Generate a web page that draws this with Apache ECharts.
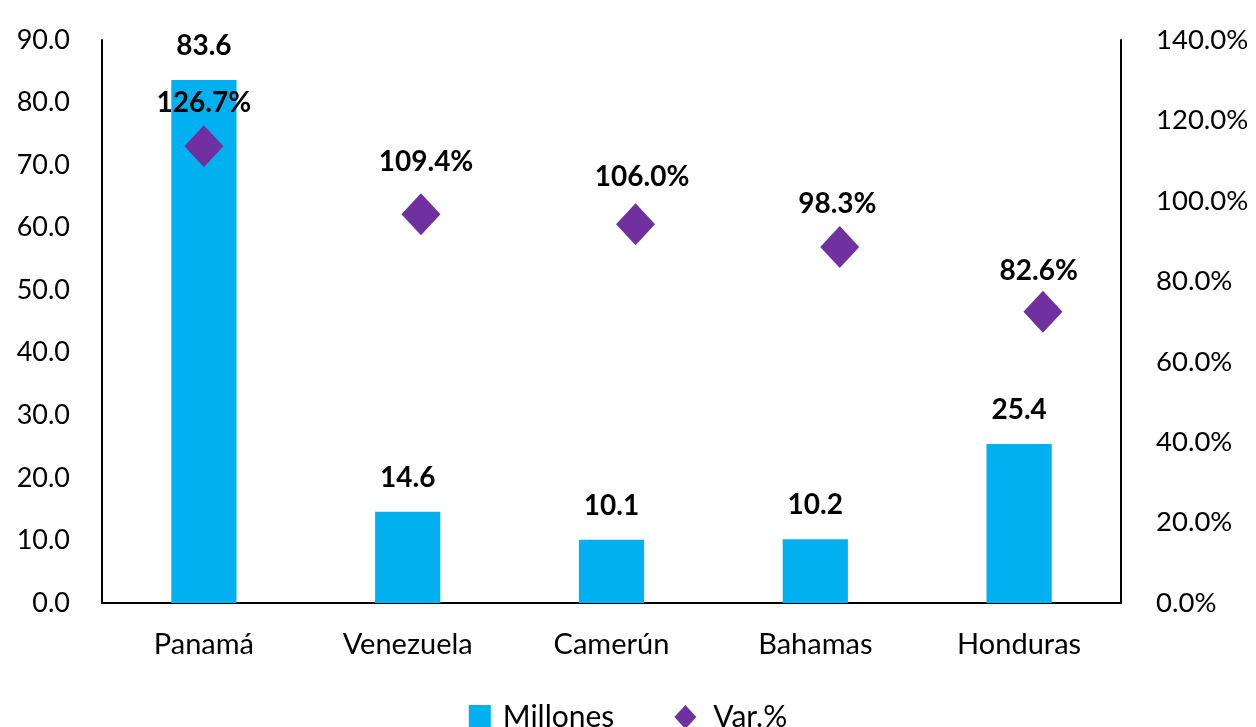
<!DOCTYPE html>
<html>
<head>
<meta charset="utf-8">
<script src="https://cdn.jsdelivr.net/npm/echarts@6/dist/echarts.min.js"></script>
<style>
  html, body { margin: 0; padding: 0; background: #fff; }
  #chart { width: 1256px; height: 727px; }
</style>
</head>
<body>
<div id="chart"></div>
<script>
const paises = ["Panamá", "Venezuela", "Camerún", "Bahamas", "Honduras"];
const millones = [83.6, 14.6, 10.1, 10.2, 25.4];
// variación % rotulada
const variacion = [126.7, 109.4, 106.0, 98.3, 82.6];
// donde aparecen los rombos en el original (x en unidades de categoría, y en %)
const rombosX = [0, 1.065, 2.118, 3.12, 4.117];
const rombosY = [113.6, 96.7, 94.2, 88.5, 72.4];
// donde aparecen los rótulos de variación
const rotulosX = [0, 1.09, 2.15, 3.108, 4.096];
const rotulosY = [124.3, 109.6, 106.0, 99.3, 82.5];

const fuente = "Lato";
const chart = echarts.init(document.getElementById("chart"));

const option = {
  backgroundColor: "#fff",
  animation: false,
  textStyle: { fontFamily: fuente },
  grid: { left: 102, right: 135, top: 40, bottom: 124 },
  legend: {
    data: [
      { name: "Millones", icon: "rect", textStyle: { padding: [0, 0, 0, 7] } },
      { name: "Var.%", icon: "diamond", textStyle: { padding: [0, 0, 0, 12] } },
    ],
    bottom: -10,
    left: "center",
    itemWidth: 22,
    itemHeight: 24,
    itemGap: 60,
    textStyle: { fontSize: 30, color: "#000", fontFamily: fuente },
  },
  xAxis: [
    {
      type: "category",
      data: paises,
      axisLine: { lineStyle: { color: "#000", width: 2 } },
      axisTick: { show: false },
      axisLabel: { fontSize: 29, color: "#000", margin: 27, fontFamily: fuente },
    },
    {
      type: "value",
      min: -0.5,
      max: 4.5,
      show: false,
      axisLine: { onZero: false },
    },
  ],
  yAxis: [
    {
      type: "value",
      min: 0,
      max: 90,
      interval: 10,
      splitLine: { show: false },
      axisLine: { show: true, onZero: false, lineStyle: { color: "#000", width: 2 } },
      axisTick: { show: false },
      axisLabel: {
        fontSize: 27,
        color: "#000",
        margin: 32,
        fontFamily: fuente,
        formatter: (v) => v.toFixed(1),
      },
    },
    {
      type: "value",
      min: 0,
      max: 140,
      interval: 20,
      splitLine: { show: false },
      axisLine: { show: true, onZero: false, lineStyle: { color: "#000", width: 2 } },
      axisTick: { show: false },
      axisLabel: {
        fontSize: 27.5,
        color: "#000",
        margin: 35,
        fontFamily: fuente,
        formatter: (v) => v.toFixed(1) + "%",
      },
    },
  ],
  series: [
    {
      name: "Millones",
      type: "bar",
      data: millones,
      barWidth: "32%",
      itemStyle: { color: "#00B0F0" },
      label: {
        show: true,
        position: "top",
        distance: 20,
        fontSize: 28,
        fontWeight: "bold",
        color: "#000",
        fontFamily: fuente,
        formatter: (p) => p.value.toFixed(1),
      },
      z: 2,
    },
    {
      name: "Var.%",
      type: "scatter",
      xAxisIndex: 1,
      yAxisIndex: 1,
      data: rombosX.map((x, i) => [x, rombosY[i]]),
      symbol: "diamond",
      symbolSize: [39, 42],
      itemStyle: { color: "#7030A0", opacity: 1 },
      z: 3,
    },
    {
      name: "rotulos",
      type: "scatter",
      xAxisIndex: 1,
      yAxisIndex: 1,
      data: rotulosX.map((x, i) => [x, rotulosY[i]]),
      symbolSize: 1,
      itemStyle: { color: "rgba(0,0,0,0)", opacity: 1 },
      label: {
        show: true,
        position: "inside",
        fontSize: 28,
        fontWeight: "bold",
        color: "#000",
        fontFamily: fuente,
        formatter: (p) => variacion[p.dataIndex].toFixed(1) + "%",
      },
      z: 4,
    },
  ],
};

chart.setOption(option);
</script>
</body>
</html>
